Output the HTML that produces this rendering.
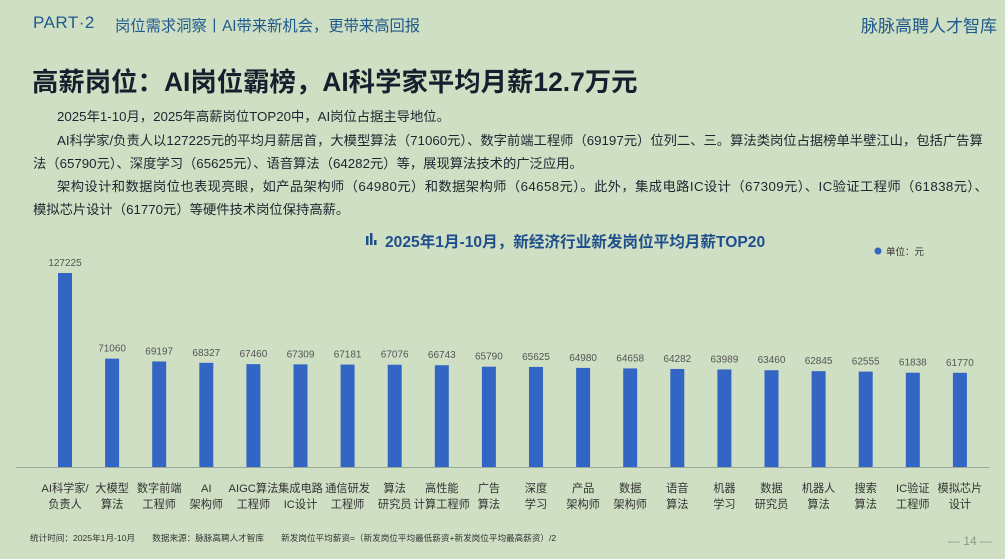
<!DOCTYPE html>
<html><head><meta charset="utf-8"><style>
body{margin:0;width:1005px;height:559px;background:#cfdfc3;font-family:"Liberation Sans","Noto Sans CJK SC",sans-serif;position:relative;overflow:hidden}
.a{position:absolute;white-space:nowrap}
.p{font-size:13.3px;color:#1d2630;left:33px}
</style></head><body>
<div class="a" style="left:33px;top:13px;font-size:17px;color:#1f5a8c;letter-spacing:0.5px">PART·2</div>
<div class="a" style="left:115px;top:14px;font-size:15.3px;color:#1f5a8c">岗位需求洞察丨AI带来新机会，更带来高回报</div>
<div class="a" style="right:8px;top:12px;font-size:17px;color:#1f5a8c">脉脉高聘人才智库</div>
<div class="a" style="left:32px;top:60px;font-size:26.4px;font-weight:bold;color:#15202e">高薪岗位：AI岗位霸榜，AI科学家平均月薪12.7万元</div>
<div class="a p" style="top:106px;left:57px">2025年1-10月，2025年高薪岗位TOP20中，AI岗位占据主导地位。</div>
<div class="a p" style="top:130px;left:57px">AI科学家/负责人以127225元的平均月薪居首，大模型算法（71060元）、数字前端工程师（69197元）位列二、三。算法类岗位占据榜单半壁江山，包括广告算</div>
<div class="a p" style="top:153px">法（65790元）、深度学习（65625元）、语音算法（64282元）等，展现算法技术的广泛应用。</div>
<div class="a p" style="top:176px;left:57px;letter-spacing:0.4px">架构设计和数据岗位也表现亮眼，如产品架构师（64980元）和数据架构师（64658元）。此外，集成电路IC设计（67309元）、IC验证工程师（61838元）、</div>
<div class="a p" style="top:199px">模拟芯片设计（61770元）等硬件技术岗位保持高薪。</div>
<svg class="a" style="left:0;top:0" width="1005" height="559" xmlns="http://www.w3.org/2000/svg" font-family="Liberation Sans, Noto Sans CJK SC, sans-serif">
<g fill="#1f4e8c"><rect x="366" y="236" width="2.5" height="9"/><rect x="370" y="233" width="2.5" height="12"/><rect x="374" y="240" width="2.5" height="5"/></g>
<text x="385" y="247" font-size="15.6" font-weight="bold" fill="#1f4e8c">2025年1月-10月，新经济行业新发岗位平均月薪TOP20</text>
<circle cx="878" cy="251" r="3.5" fill="#3366c4"/>
<text x="886" y="255" font-size="9.5" fill="#333">单位：元</text>
<line x1="16" y1="467.5" x2="990" y2="467.5" stroke="#9aa89a" stroke-width="1"/>
<g id="bars"></g>
<text x="30" y="541" font-size="8.6" fill="#333">统计时间：2025年1月-10月　　数据来源：脉脉高聘人才智库　　新发岗位平均薪资=（新发岗位平均最低薪资+新发岗位平均最高薪资）/2</text>
<text x="970" y="545" font-size="12" fill="#8a9a8a" text-anchor="middle">— 14 —</text>
</svg>
<script>
var d=[[127225,"AI科学家/","负责人"],[71060,"大模型","算法"],[69197,"数字前端","工程师"],[68327,"AI","架构师"],[67460,"AIGC算法","工程师"],[67309,"集成电路","IC设计"],[67181,"通信研发","工程师"],[67076,"算法","研究员"],[66743,"高性能","计算工程师"],[65790,"广告","算法"],[65625,"深度","学习"],[64980,"产品","架构师"],[64658,"数据","架构师"],[64282,"语音","算法"],[63989,"机器","学习"],[63460,"数据","研究员"],[62845,"机器人","算法"],[62555,"搜索","算法"],[61838,"IC验证","工程师"],[61770,"模拟芯片","设计"]];
var s="";
d.forEach(function(r,i){var cx=65+i*47.1,h=r[0]/127225*194,y=467-h;
s+='<rect x="'+(cx-7)+'" y="'+y+'" width="14" height="'+h+'" fill="#3366c4"/>';
s+='<text x="'+cx+'" y="'+(y-7)+'" font-size="10" fill="#555" text-anchor="middle">'+r[0]+'</text>';
s+='<text x="'+cx+'" y="492" font-size="11.2" fill="#333" text-anchor="middle">'+r[1]+'</text>';
s+='<text x="'+cx+'" y="508" font-size="11.2" fill="#333" text-anchor="middle">'+r[2]+'</text>';});
document.getElementById("bars").innerHTML=s;
</script>
</body></html>
